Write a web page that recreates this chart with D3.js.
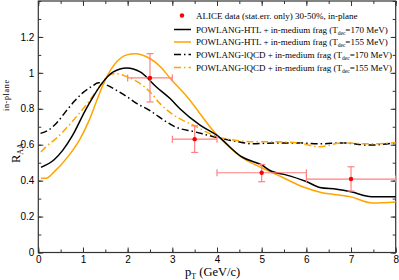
<!DOCTYPE html>
<html>
<head>
<meta charset="utf-8">
<script src="https://cdn.jsdelivr.net/npm/d3@7"></script>
<style>
  body { margin: 0; background: #fff; }
  svg { display: block; font-family: "Liberation Serif", "DejaVu Serif", serif; }
  .tick text { font-size: 10px; fill: #000; }
  .axis path { display: none; }
  .axis line { stroke: #333; }
</style>
</head>
<body>
<svg id="chart" width="399" height="280"></svg>
<script>
const width = 399;
const height = 280;
const margin = { left: 38.3, right: 3.3, top: 1, bottom: 27.5 };

// ALICE data, 30-50%, in-plane
const dataPt = [2.5, 3.5, 5, 7];
const dataRaa = [0.972, 0.631, 0.444, 0.409];
const dataXLo = [2, 3, 4, 6];
const dataXHi = [3, 4, 6, 8];
const dataErrHi = [1.107, 0.705, 0.49, 0.477];
const dataErrLo = [0.838, 0.557, 0.394, 0.342];

// POWLANG-HTL, Tdec = 170 MeV
const htl170Pt = [0.06, 0.36, 0.55, 0.77, 1.05, 1.2, 1.42, 1.68, 1.98, 2.28, 2.65, 2.95, 3.17, 3.62, 4.0, 4.55, 5.0, 5.22, 5.5, 6.0, 6.3, 6.68, 7.0, 7.46, 8.0];
const htl170Raa = [0.474, 0.518, 0.57, 0.653, 0.79, 0.855, 0.94, 1.005, 1.027, 1.005, 0.92, 0.857, 0.8, 0.709, 0.652, 0.533, 0.487, 0.452, 0.435, 0.395, 0.362, 0.352, 0.338, 0.311, 0.311];

// POWLANG-HTL, Tdec = 155 MeV
const htl155Pt = [0.06, 0.17, 0.36, 0.69, 0.92, 1.14, 1.3, 1.46, 1.75, 1.98, 2.16, 2.5, 2.75, 2.95, 3.32, 3.96, 4.59, 5.0, 5.45, 5.95, 6.31, 6.98, 7.48, 8.0];
const htl155Raa = [0.413, 0.413, 0.45, 0.542, 0.626, 0.737, 0.84, 0.94, 1.06, 1.1, 1.107, 1.08, 1.03, 0.97, 0.87, 0.665, 0.524, 0.472, 0.42, 0.363, 0.335, 0.311, 0.275, 0.281];

// POWLANG-lQCD, Tdec = 170 MeV
const lqcd170Pt = [0.05, 0.2, 0.4, 0.6, 0.8, 1.0, 1.2, 1.35, 1.5, 1.75, 2.0, 2.2, 2.5, 2.65, 2.87, 3.06, 3.5, 4.0, 4.4, 4.8, 5.3, 5.8, 6.3, 6.8, 7.4, 8.0];
const lqcd170Raa = [0.663, 0.677, 0.718, 0.78, 0.84, 0.89, 0.925, 0.945, 0.935, 0.903, 0.865, 0.83, 0.79, 0.764, 0.727, 0.7, 0.672, 0.64, 0.62, 0.605, 0.61, 0.61, 0.605, 0.61, 0.598, 0.611];

// POWLANG-lQCD, Tdec = 155 MeV
const lqcd155Pt = [0.06, 0.17, 0.4, 0.62, 0.9, 1.1, 1.42, 1.6, 1.75, 2.0, 2.5, 2.72, 3.0, 3.5, 4.0, 4.4, 4.85, 5.3, 5.8, 6.3, 6.8, 7.4, 8.0];
const lqcd155Raa = [0.56, 0.588, 0.635, 0.69, 0.77, 0.83, 0.94, 0.99, 0.995, 0.977, 0.894, 0.83, 0.77, 0.705, 0.645, 0.625, 0.616, 0.616, 0.61, 0.589, 0.61, 0.605, 0.611];

const xTicks = [0, 1, 2, 3, 4, 5, 6, 7, 8];
const yTicks = [0, 0.2, 0.4, 0.6, 0.8, 1, 1.2];

const svg = d3.select("#chart");

const x = d3.scaleLinear().domain([0, 8]).range([margin.left, width - margin.right]);
const y = d3.scaleLinear().domain([0, 1.4]).range([height - margin.bottom, margin.top]);

const plotW = width - margin.right - margin.left;
const plotH = height - margin.bottom - margin.top;

// minor + major ticks, pointing inward on all four sides
const xMinor = d3.range(0, 8.01, 0.5);
const yMinor = d3.range(0, 1.401, 0.1);

svg.append("g").attr("class", "axis")
  .attr("transform", `translate(0,${y(0)})`)
  .call(d3.axisBottom(x).tickValues(xMinor).tickSize(-3).tickFormat(""));
svg.append("g").attr("class", "axis")
  .attr("transform", `translate(0,${y(0)})`)
  .call(d3.axisBottom(x).tickValues(xTicks).tickSize(-5).tickPadding(3).tickFormat(d3.format("d")));
svg.append("g").attr("class", "axis")
  .attr("transform", `translate(0,${y(1.4)})`)
  .call(d3.axisTop(x).tickValues(xMinor).tickSize(-3).tickFormat(""));
svg.append("g").attr("class", "axis")
  .attr("transform", `translate(0,${y(1.4)})`)
  .call(d3.axisTop(x).tickValues(xTicks).tickSize(-5).tickFormat(""));

svg.append("g").attr("class", "axis")
  .attr("transform", `translate(${x(0)},0)`)
  .call(d3.axisLeft(y).tickValues(yMinor).tickSize(-3).tickFormat(""));
svg.append("g").attr("class", "axis")
  .attr("transform", `translate(${x(0)},0)`)
  .call(d3.axisLeft(y).tickValues(yTicks).tickSize(-5).tickPadding(4)
    .tickFormat(d => d === 0 || d === 1 ? d3.format("d")(d) : d3.format(".1f")(d)));
svg.append("g").attr("class", "axis")
  .attr("transform", `translate(${x(8)},0)`)
  .call(d3.axisRight(y).tickValues(yMinor).tickSize(-3).tickFormat(""));
svg.append("g").attr("class", "axis")
  .attr("transform", `translate(${x(8)},0)`)
  .call(d3.axisRight(y).tickValues(yTicks).tickSize(-5).tickFormat(""));

// frame
svg.append("rect")
  .attr("x", x(0)).attr("y", y(1.4))
  .attr("width", plotW).attr("height", plotH)
  .attr("fill", "none").attr("stroke", "#333").attr("stroke-width", 1.2);

// curves
const line = d3.line().x(d => x(d[0])).y(d => y(d[1])).curve(d3.curveMonotoneX);
const series = [
  { pt: lqcd170Pt, raa: lqcd170Raa, color: "#000", dash: "7,3,1.5,3" },
  { pt: lqcd155Pt, raa: lqcd155Raa, color: "#ffa500", dash: "7,3,1.5,3" },
  { pt: htl155Pt, raa: htl155Raa, color: "#ffa500", dash: null },
  { pt: htl170Pt, raa: htl170Raa, color: "#000", dash: null },
];
svg.append("g").selectAll("path")
  .data(series)
  .join("path")
  .attr("d", s => line(d3.zip(s.pt, s.raa)))
  .attr("fill", "none")
  .attr("stroke", s => s.color)
  .attr("stroke-width", 1.5)
  .attr("stroke-dasharray", s => s.dash);

// ALICE points with error bars
const errColor = "#ff8080";
const pts = svg.append("g");
const cap = 3.5;
dataPt.forEach((p, i) => {
  const g = pts.append("g").attr("stroke", errColor).attr("stroke-width", 1.2);
  g.append("line").attr("x1", x(dataXLo[i])).attr("x2", x(dataXHi[i]))
    .attr("y1", y(dataRaa[i])).attr("y2", y(dataRaa[i]));
  g.append("line").attr("x1", x(dataXLo[i])).attr("x2", x(dataXLo[i]))
    .attr("y1", y(dataRaa[i]) - cap).attr("y2", y(dataRaa[i]) + cap);
  g.append("line").attr("x1", x(dataXHi[i])).attr("x2", x(dataXHi[i]))
    .attr("y1", y(dataRaa[i]) - cap).attr("y2", y(dataRaa[i]) + cap);
  g.append("line").attr("x1", x(p)).attr("x2", x(p))
    .attr("y1", y(dataErrLo[i])).attr("y2", y(dataErrHi[i]));
  g.append("line").attr("x1", x(p) - cap).attr("x2", x(p) + cap)
    .attr("y1", y(dataErrLo[i])).attr("y2", y(dataErrLo[i]));
  g.append("line").attr("x1", x(p) - cap).attr("x2", x(p) + cap)
    .attr("y1", y(dataErrHi[i])).attr("y2", y(dataErrHi[i]));
});
pts.selectAll("circle")
  .data(dataPt)
  .join("circle")
  .attr("cx", d => x(d))
  .attr("cy", (d, i) => y(dataRaa[i]))
  .attr("r", 2.2)
  .attr("fill", "#ff0000");

// legend
const legend = svg.append("g").attr("font-size", 9);
const legendRows = [
  { type: "dot", text: ["ALICE data (stat.err. only) 30-50%, in-plane"] },
  { type: "line", color: "#000", dash: null, text: ["POWLANG-HTL + in-medium frag (T", "dec", "=170 MeV)"] },
  { type: "line", color: "#ffa500", dash: null, text: ["POWLANG-HTL + in-medium frag (T", "dec", "=155 MeV)"] },
  { type: "line", color: "#000", dash: "7,3,1.5,3", text: ["POWLANG-lQCD + in-medium frag (T", "dec", "=170 MeV)"] },
  { type: "line", color: "#ffa500", dash: "7,3,1.5,3", text: ["POWLANG-lQCD + in-medium frag (T", "dec", "=155 MeV)"] },
];
const legendY = [15.5, 29.5, 42, 54.5, 67.5];
legendRows.forEach((r, i) => {
  const ly = legendY[i];
  if (r.type === "dot") {
    legend.append("circle").attr("cx", 182).attr("cy", ly).attr("r", 2.2).attr("fill", "#ff0000");
  } else {
    legend.append("line").attr("x1", 174).attr("x2", 191).attr("y1", ly).attr("y2", ly)
      .attr("stroke", r.color).attr("stroke-width", 1.5).attr("stroke-dasharray", r.dash);
  }
  const t = legend.append("text").attr("x", 196).attr("y", ly + 3);
  t.append("tspan").text(r.text[0]);
  if (r.text.length > 1) {
    t.append("tspan").attr("font-size", 5.5).attr("dy", 2).text(r.text[1]);
    t.append("tspan").attr("dy", -2).text(r.text[2]);
  }
});

// axis titles
const xt = svg.append("text").attr("x", 185).attr("y", 276).attr("font-size", 12.5);
xt.append("tspan").text("p");
xt.append("tspan").attr("font-size", 8).attr("dy", 2.5).text("T");
xt.append("tspan").attr("dy", -2.5).text(" (GeV/c)");

const yt = svg.append("text").attr("transform", "translate(20,163) rotate(-90)").attr("font-size", 12.5);
yt.append("tspan").text("R");
yt.append("tspan").attr("font-size", 8).attr("dy", 3).text("AA");

svg.append("text")
  .attr("transform", "translate(9,111) rotate(-90)")
  .attr("font-size", 8)
  .attr("textLength", 31)
  .attr("lengthAdjust", "spacing")
  .text("in-plane");
</script>
</body>
</html>
